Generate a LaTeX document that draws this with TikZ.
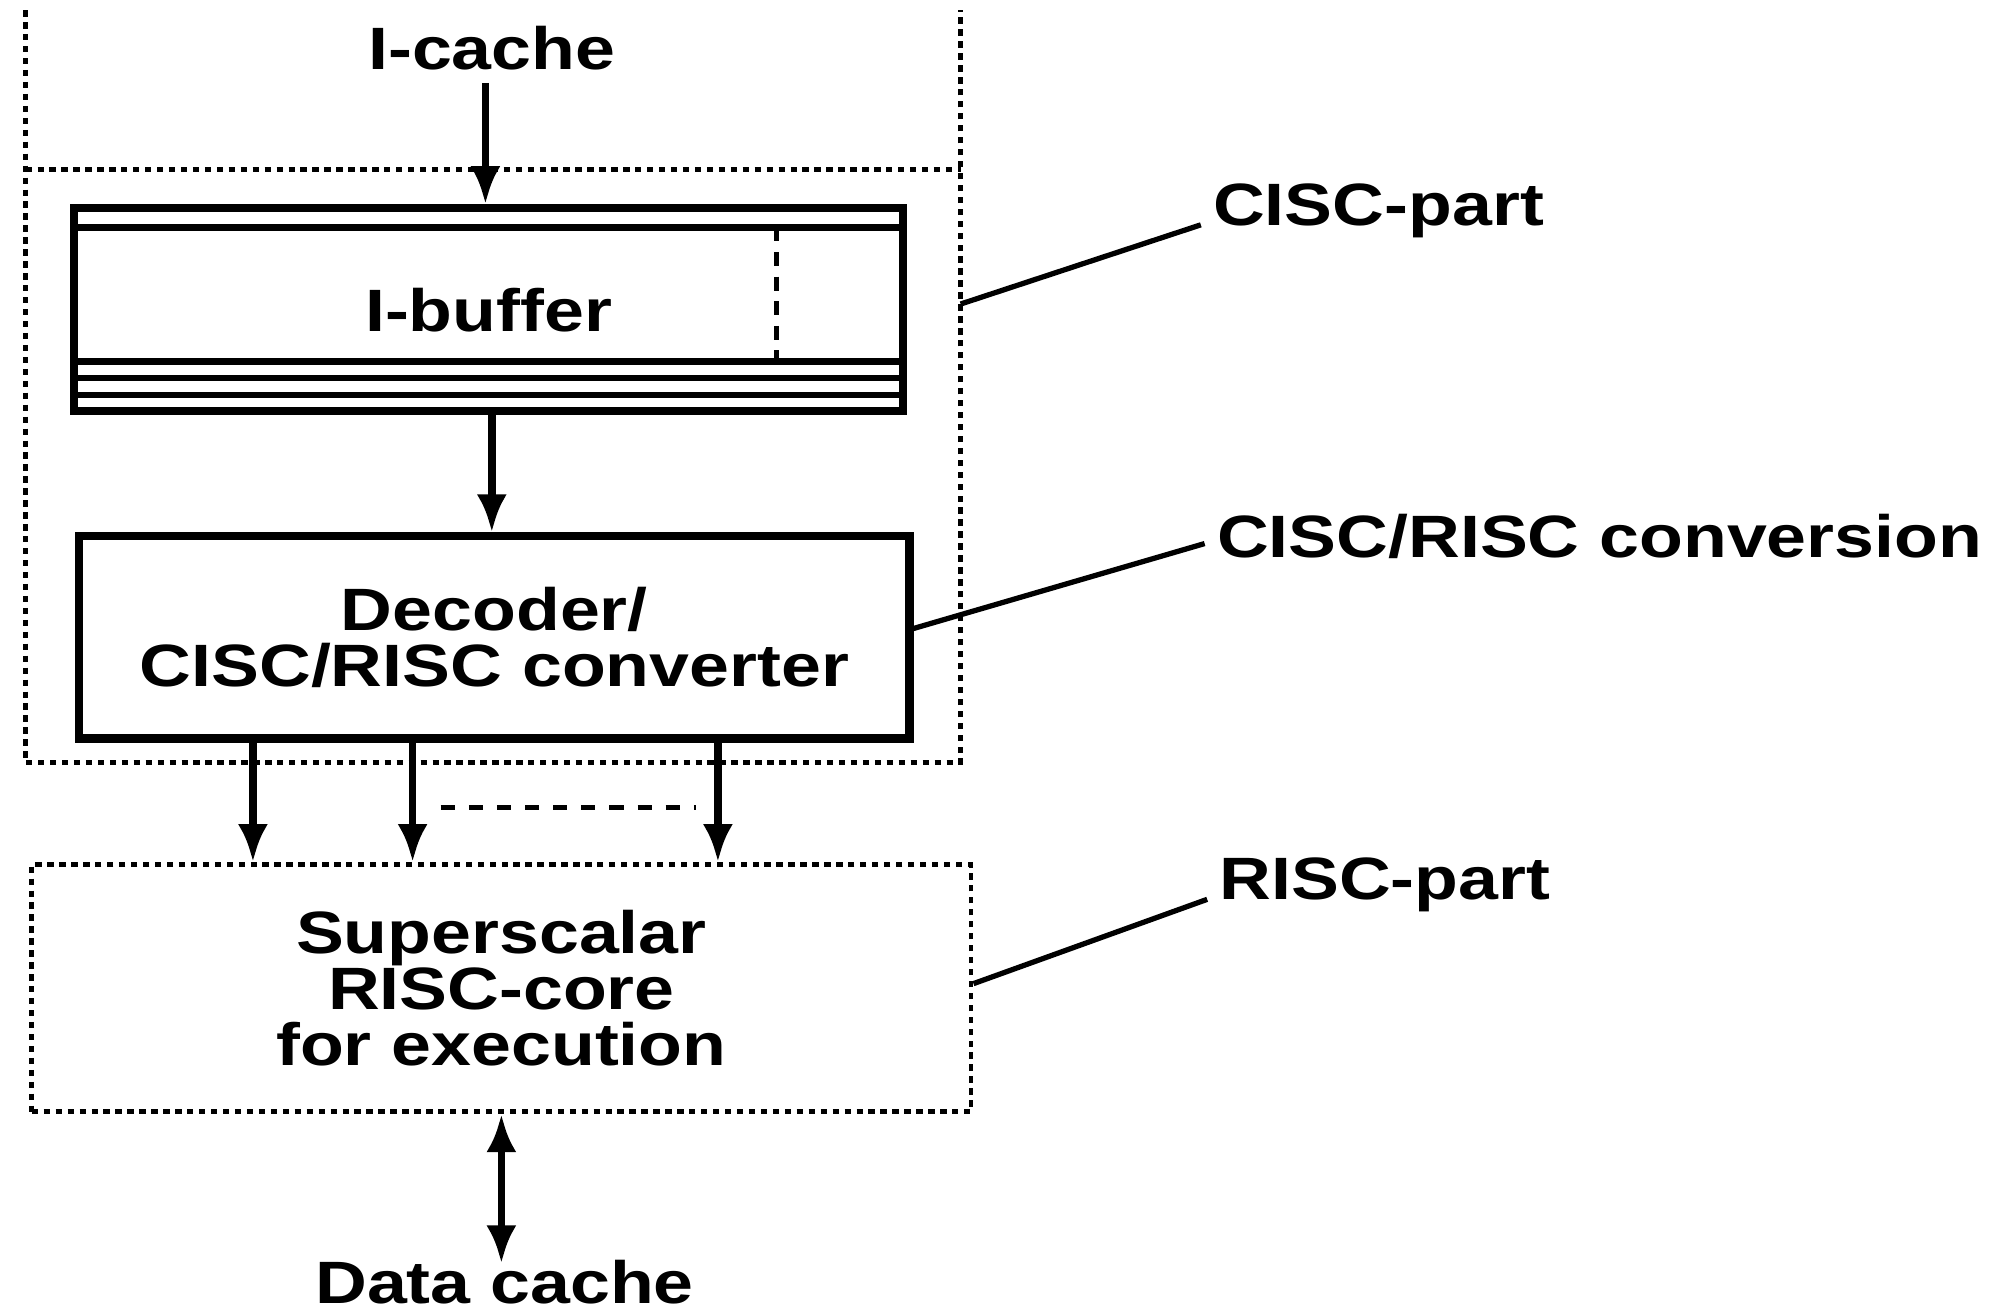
\documentclass[tikz,border=0pt]{standalone}
\usepackage{fontspec}
\setmainfont{Liberation Sans}[FakeStretch=1.2]
\usetikzlibrary{positioning,arrows.meta}

\begin{document}
\begin{tikzpicture}[x=0.012774cm,y=-0.012774cm,>={Latex[length=0.38cm,width=0.3cm]},
    font=\fontsize{17}{16}\selectfont\bfseries,
    block/.style={draw,line width=2.3pt,align=center,inner sep=0pt},
    region/.style={draw,line width=1.4pt,dash pattern=on 1.8pt off 1.6pt},
    flow/.style={->,line width=2.2pt},
    lead/.style={line width=1.5pt}]
    \useasboundingbox (0,0) rectangle (1568,1030);
    % CISC-part outline, open at the top
    \draw[region] (20,8) -- (20,597) -- (752,597) -- (752,8);
    \draw[region] (20,133) -- (752,133);
    \coordinate (cisctip) at (752,238);
    % main blocks
    \node (icache) at (385,38) {I-cache};
    \node[block,minimum width=8.29cm,minimum height=2.03cm] (ibuf) at (382.5,242.5) {I-buffer};
    \draw[line width=1.8pt] (58,178) -- (707,178);
    \draw[line width=1.8pt] (58,283) -- (707,283);
    \draw[line width=1.8pt] (58,296) -- (707,296);
    \draw[line width=1.8pt] (58,309) -- (707,309);
    \draw[line width=1.6pt,dash pattern=on 4pt off 3pt] (608,178) -- (608,283);
    \node[block,minimum width=8.30cm,minimum height=2.02cm] (dec) at (387,499) {Decoder/\\CISC/RISC converter};
    \node[region,align=center,minimum width=9.39cm,minimum height=2.47cm] (risc) at (392.5,773.5) {Superscalar\\RISC-core\\for execution};
    \node[inner sep=2pt] (dcache) at (395,1004) {Data cache};
    % connectors
    \draw[flow] (icache.south -| 380,0) -- (ibuf.north -| 380,0);
    \draw[flow] (ibuf.south -| 385,0) -- (dec.north -| 385,0);
    \draw[flow] (dec.south -| 198,0) -- (risc.north -| 198,0);
    \draw[flow] (dec.south -| 323,0) -- (risc.north -| 323,0);
    \draw[flow] (dec.south -| 562,0) -- (risc.north -| 562,0);
    \draw[line width=1.6pt,dash pattern=on 4pt off 4pt] (345,632) -- (545,632);
    \draw[<->,line width=2.2pt] (risc.south) -- ([yshift=-3pt]risc.south |- dcache.north);
    % side labels
    \node[anchor=west] (cpart) at (940,165) {CISC-part};
    \node[anchor=west] (conv) at (943,420) {CISC/RISC conversion};
    \node[anchor=west] (rpart) at (945,693) {RISC-part};
    \draw[lead] (cisctip) -- ([yshift=-4pt]cpart.west);
    \draw[lead] (dec.east |- 0,492) -- ([yshift=-2pt]conv.west);
    \draw[lead] (risc.east |- 0,770) -- ([yshift=-4pt]rpart.west);
\end{tikzpicture}
\end{document}
